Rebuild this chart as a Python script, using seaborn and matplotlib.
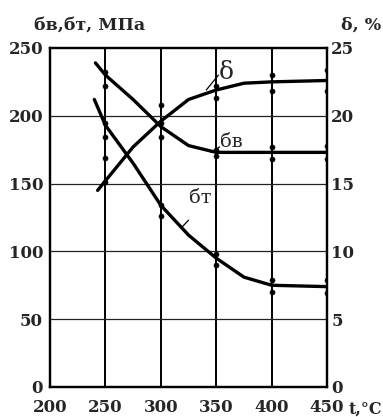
import matplotlib
matplotlib.use("Agg")
import matplotlib.pyplot as plt
import seaborn as sns
import pandas as pd

# ---- data ----
t_sv = [241, 250, 275, 300, 325, 350, 400, 450]
sigma_v = [239, 230, 212, 192, 178, 173, 173, 173]

t_st = [240, 250, 275, 300, 325, 350, 375, 400, 450]
sigma_t = [212, 193, 165, 134, 112, 95, 81, 75, 74]

t_d = [243, 250, 275, 300, 325, 350, 375, 400, 450]
delta = [14.5, 15.2, 17.7, 19.6, 21.2, 21.9, 22.4, 22.5, 22.6]

# experimental points
pt_t_sigma = [250, 250, 250, 250, 300, 300, 300, 300, 350, 350, 350, 350,
              400, 400, 400, 400, 450, 450, 450, 450]
pt_sigma = [232, 222, 195, 184, 195, 184, 134, 126, 175, 170, 98, 90,
            177, 168, 79, 70, 178, 168, 79, 69]
pt_t_delta = [250, 250, 300, 350, 350, 400, 400, 450, 450]
pt_delta = [16.9, 15.1, 20.8, 22.2, 21.3, 23.0, 21.8, 23.4, 21.8]

x_ticks = [200, 250, 300, 350, 400, 450]
y_left_ticks = [0, 50, 100, 150, 200, 250]
y_right_ticks = [0, 5, 10, 15, 20, 25]

sns.set_style("white")
plt.rcParams['font.family'] = ['DejaVu Serif', 'Liberation Serif']

fig = plt.figure(figsize=(3.83, 4.17), dpi=100)
ax = fig.add_axes([0.1305, 0.072, 0.7235, 0.813])

df_v = pd.DataFrame({"t": t_sv, "v": sigma_v})
df_t = pd.DataFrame({"t": t_st, "v": sigma_t})
df_d = pd.DataFrame({"t": t_d, "v": delta})
df_p = pd.DataFrame({"t": pt_t_sigma, "v": pt_sigma})
df_pd = pd.DataFrame({"t": pt_t_delta, "v": pt_delta})

# grid
for xv in x_ticks[1:]:
    ax.axvline(xv, color="black", lw=1.4, zorder=1)
for yv in y_left_ticks[1:-1]:
    ax.axhline(yv, color="#222222", lw=0.9, zorder=1)

sns.lineplot(data=df_v, x="t", y="v", ax=ax, color="black", lw=2.4, sort=False, zorder=3)
sns.lineplot(data=df_t, x="t", y="v", ax=ax, color="black", lw=2.4, sort=False, zorder=3)
sns.scatterplot(data=df_p, x="t", y="v", ax=ax, color="black", s=14, marker="o",
                edgecolor="black", zorder=4)

ax.set_xlim(200, 450)
ax.set_ylim(0, 250)
ax.set_xticks(x_ticks)
ax.set_yticks(y_left_ticks)
ax.set_xlabel("")
ax.set_ylabel("")
ax.tick_params(axis="both", length=0, labelsize=12)
ax.tick_params(axis="x", pad=9)
ax.tick_params(axis="y", pad=5)
for lab in ax.get_xticklabels() + ax.get_yticklabels():
    lab.set_fontweight("bold")

ax2 = ax.twinx()
sns.lineplot(data=df_d, x="t", y="v", ax=ax2, color="black", lw=2.4, sort=False, zorder=3)
sns.scatterplot(data=df_pd, x="t", y="v", ax=ax2, color="black", s=14, marker="o",
                edgecolor="black", zorder=4)
ax2.set_ylim(0, 25)
ax2.set_yticks(y_right_ticks)
ax2.set_ylabel("")
ax2.tick_params(axis="y", length=0, labelsize=12, pad=3)
for lab in ax2.get_yticklabels():
    lab.set_fontweight("bold")

for a in (ax, ax2):
    for s in a.spines.values():
        s.set_color("black")
        s.set_linewidth(1.6)

# axis titles
fig.text(0.09, 0.94, "бв,бт, МПа", fontsize=12.5, fontweight="bold", ha="left", va="center")
fig.text(0.995, 0.94, "δ, %", fontsize=12.5, fontweight="bold", ha="right", va="center")
fig.text(0.997, 0.018, "t,°C", fontsize=11.5, fontweight="bold", ha="right", va="center")

# curve labels with leader lines
ax2.text(352, 23.2, "δ", fontsize=18, ha="left", va="center")
ax2.plot([341, 352], [21.9, 23.0], color="black", lw=0.9)
ax.text(353, 181, "бв", fontsize=14, ha="left", va="center")
ax.plot([345, 353], [173, 177], color="black", lw=0.9)
ax.text(325, 139, "бт", fontsize=14, ha="left", va="center")
ax.plot([318, 325], [117, 123], color="black", lw=0.9)

fig.savefig("out.png", dpi=100)
